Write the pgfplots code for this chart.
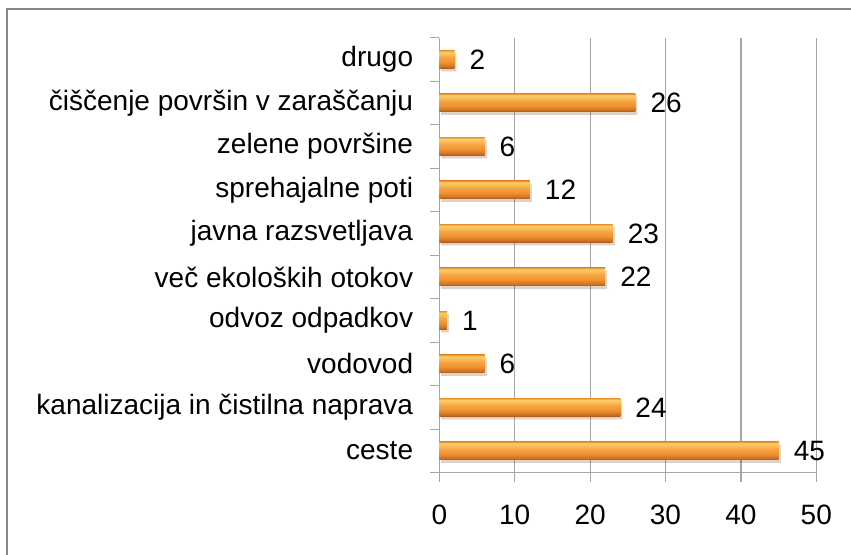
\documentclass[border=0pt]{standalone}
\usepackage{fontspec}
\setmainfont{Liberation Sans}
\usepackage{pgfplots}
\pgfplotsset{compat=1.18}
\usetikzlibrary{shadows}
\definecolor{gridgray}{HTML}{A6A6A6}
\definecolor{framegray}{HTML}{878787}
\definecolor{cA}{HTML}{A85A1C}
\definecolor{cB}{HTML}{CF7425}
\definecolor{cC}{HTML}{F0922E}
\definecolor{cD}{HTML}{F5A545}
\definecolor{cE}{HTML}{FAC35C}
\definecolor{cF}{HTML}{FBCB68}
\definecolor{cG}{HTML}{EE9B38}
\pgfdeclareverticalshading{barshade}{100bp}{color(0bp)=(cA); color(25bp)=(cA); color(31bp)=(cB); color(42bp)=(cC); color(56bp)=(cD); color(66bp)=(cE); color(71bp)=(cF); color(75bp)=(cG); color(100bp)=(cG)}
\pgfplotstableread{
val pos
45 0
24 1
6 2
1 3
22 4
23 5
12 6
6 7
26 8
2 9
}\datatable
\begin{document}
\fontsize{28}{34}\selectfont
\begin{tikzpicture}
\path[use as bounding box] (0,0) rectangle (851pt,-554pt);
\draw[framegray, line width=2pt] (7pt,-600pt) -- (7pt,-9pt) -- (900pt,-9pt);
\begin{axis}[
  at={(439.3pt,-472.7pt)}, anchor=south west,
  width=377pt, height=435pt, scale only axis,
  xmin=0, xmax=50, ymin=-0.5, ymax=9.5,
  xtick={0,10,...,50}, ytick={0,...,9},
  minor ytick={-0.5,0.5,...,9.5},
  yticklabels={ceste,kanalizacija in čistilna naprava,vodovod,odvoz odpadkov,več ekoloških otokov,javna razsvetljava,sprehajalne poti,zelene površine,čiščenje površin v zaraščanju,drugo},
  axis x line*=bottom, axis y line*=left,
  axis line style={gridgray, line width=1.2pt},
  tick align=outside,
  major tick length=9pt, minor tick length=9pt,
  major x tick style={gridgray, line width=1.2pt},
  major y tick style={draw=none},
  minor y tick style={gridgray, line width=1.2pt},
  xmajorgrids,
  major x grid style={gridgray, line width=1.2pt},
  /pgf/number format/assume math mode=true,
  tick label style={font=\fontsize{28}{34}\selectfont, text=black},
  xticklabel style={anchor=north, inner sep=0pt, yshift=-23pt},
  yticklabel style={anchor=east, inner sep=0pt, xshift=-17pt},
  xbar, bar width=18pt, bar shift=0pt,
  nodes near coords,
  nodes near coords align={horizontal},
  every node near coord/.append style={anchor=west, inner sep=0pt, xshift=15pt, text=black, font=\fontsize{28}{34}\selectfont},
  mybar/.style={draw=none, shading=barshade,
    drop shadow={shadow xshift=2pt, shadow yshift=-3pt, opacity=0.12, fill=black}},
]
\addplot[mybar] table[x=val, y=pos, skip coords between index={1}{10}] {\datatable};
\addplot[mybar] table[x=val, y=pos, skip coords between index={0}{1}, skip coords between index={2}{10}] {\datatable};
\addplot[mybar] table[x=val, y=pos, skip coords between index={0}{2}, skip coords between index={3}{10}] {\datatable};
\addplot[mybar] table[x=val, y=pos, skip coords between index={0}{3}, skip coords between index={4}{10}] {\datatable};
\addplot[mybar] table[x=val, y=pos, skip coords between index={0}{4}, skip coords between index={5}{10}] {\datatable};
\addplot[mybar] table[x=val, y=pos, skip coords between index={0}{5}, skip coords between index={6}{10}] {\datatable};
\addplot[mybar] table[x=val, y=pos, skip coords between index={0}{6}, skip coords between index={7}{10}] {\datatable};
\addplot[mybar] table[x=val, y=pos, skip coords between index={0}{7}, skip coords between index={8}{10}] {\datatable};
\addplot[mybar] table[x=val, y=pos, skip coords between index={0}{8}, skip coords between index={9}{10}] {\datatable};
\addplot[mybar] table[x=val, y=pos, skip coords between index={0}{9}] {\datatable};
\end{axis}
\end{tikzpicture}
\end{document}
